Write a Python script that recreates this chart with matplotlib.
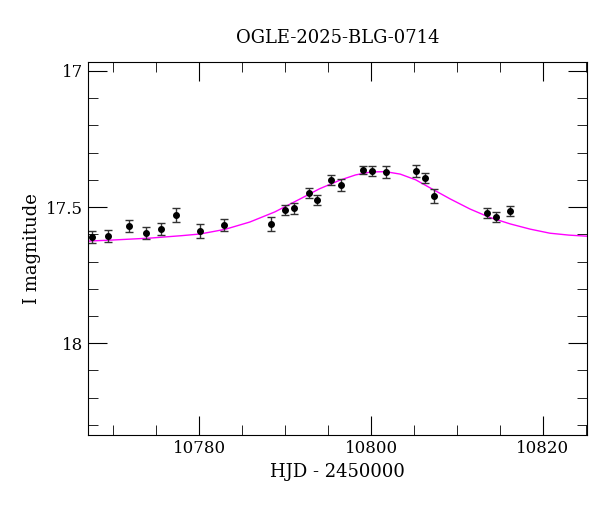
import numpy as np
import matplotlib.pyplot as plt
from matplotlib.ticker import MultipleLocator

# observations
hjd = [10767.6, 10769.4, 10771.9, 10773.8, 10775.6, 10777.3, 10780.1, 10782.9,
       10788.4, 10790.0, 10791.0, 10792.8, 10793.7, 10795.3, 10796.5, 10799.1,
       10800.1, 10801.7, 10805.2, 10806.3, 10807.3, 10813.5, 10814.5, 10816.2]
mag = [17.610, 17.607, 17.570, 17.596, 17.581, 17.529, 17.588, 17.566,
       17.562, 17.511, 17.504, 17.449, 17.474, 17.401, 17.419, 17.364,
       17.368, 17.371, 17.368, 17.393, 17.460, 17.522, 17.537, 17.515]
err = [0.022, 0.022, 0.022, 0.022, 0.022, 0.025, 0.025, 0.022,
       0.025, 0.018, 0.020, 0.018, 0.018, 0.018, 0.022, 0.015,
       0.018, 0.022, 0.022, 0.018, 0.025, 0.018, 0.018, 0.018]

# model curve
model_t = [10767.1, 10770.0, 10774.3, 10778.0, 10780.1, 10783.0, 10785.9, 10788.8,
           10791.7, 10794.0, 10796.4, 10798.2, 10800.0, 10801.7, 10803.4, 10805.2,
           10806.9, 10809.2, 10811.5, 10813.8, 10816.2, 10818.5, 10820.8, 10823.0, 10825.1]
model_m = [17.625, 17.621, 17.614, 17.605, 17.599, 17.582, 17.555, 17.518,
           17.471, 17.433, 17.401, 17.382, 17.371, 17.370, 17.379, 17.400,
           17.430, 17.470, 17.507, 17.538, 17.562, 17.581, 17.596, 17.603, 17.607]

plt.rcParams['font.family'] = 'DejaVu Serif'
fig = plt.figure(figsize=(6, 5.12), dpi=100)
ax = fig.add_axes([0.147, 0.150, 0.831, 0.729])

ax.plot(model_t, model_m, color='magenta', lw=1)
ax.errorbar(hjd, mag, yerr=err, fmt='o', color='black', ms=4,
            ecolor='#333333', elinewidth=1, capsize=3)

ax.set_xlim(10767.1, 10825.1)
ax.set_ylim(18.338, 16.967)
ax.xaxis.set_major_locator(MultipleLocator(20))
ax.xaxis.set_minor_locator(MultipleLocator(5))
ax.yaxis.set_major_locator(MultipleLocator(0.5))
ax.yaxis.set_minor_locator(MultipleLocator(0.1))
ax.yaxis.set_major_formatter(plt.FuncFormatter(lambda v, p: '%g' % v))
ax.tick_params(which='both', direction='in', top=True, right=True, labelsize=12)
ax.tick_params(which='major', length=14)
ax.tick_params(which='minor', length=7)

ax.set_xlabel('HJD - 2450000', fontsize=13)
ax.set_ylabel('I magnitude', fontsize=13)
ax.set_title('OGLE-2025-BLG-0714', fontsize=13, pad=14)

fig.savefig('out.png', dpi=100)
